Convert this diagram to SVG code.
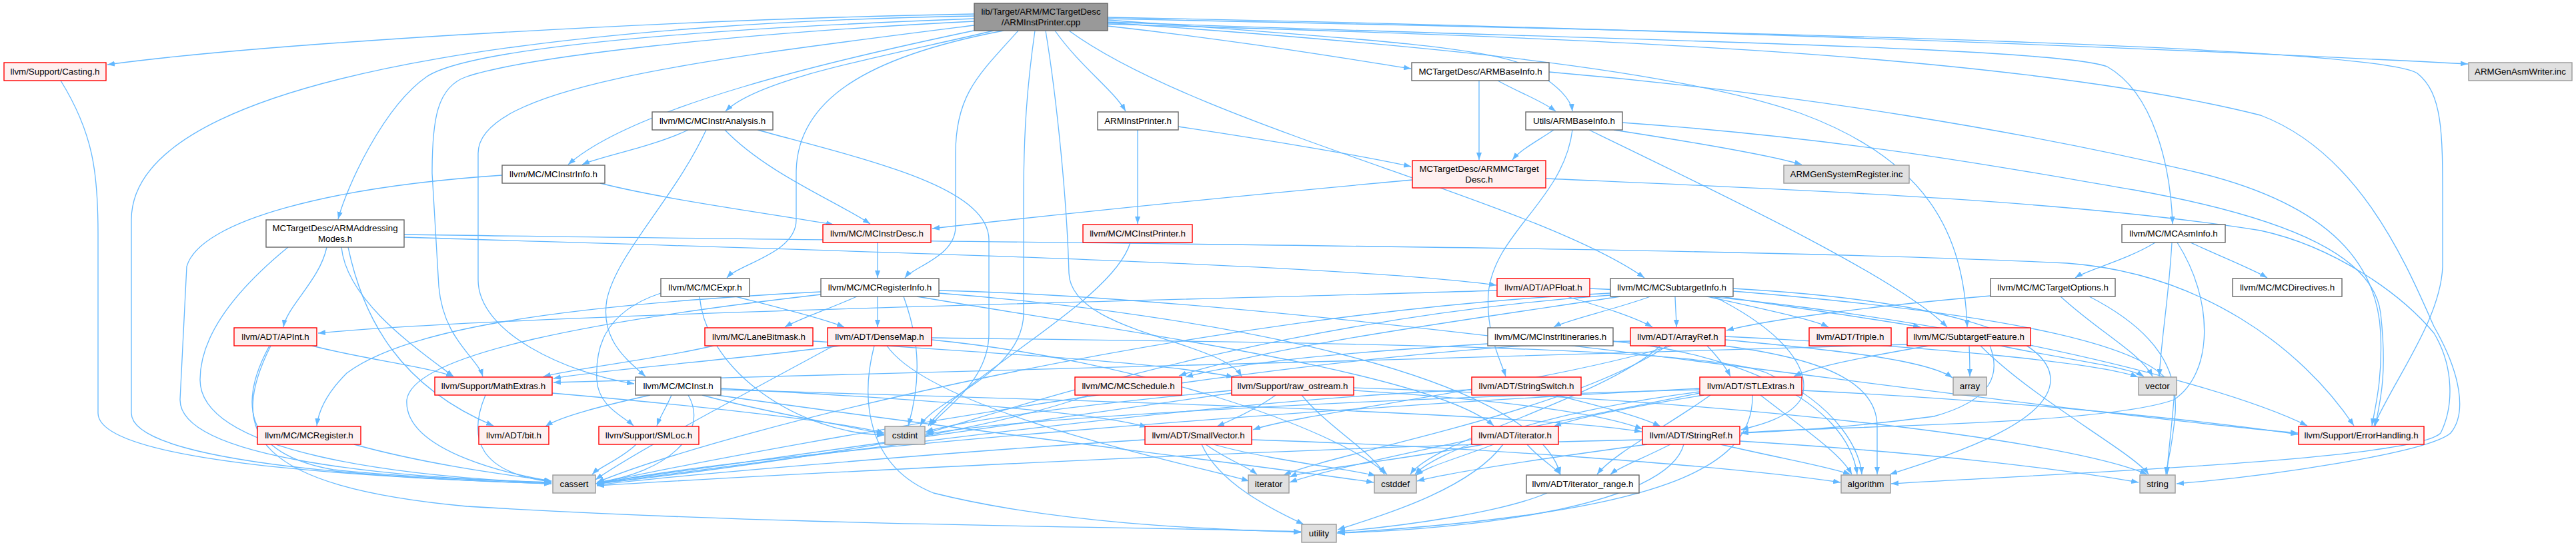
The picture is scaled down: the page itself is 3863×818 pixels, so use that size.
<svg xmlns="http://www.w3.org/2000/svg" width="3863" height="818" viewBox="0 0 3863 818">
<style>
.e{fill:none;stroke:#63b8ff;stroke-width:1.3;marker-end:url(#a)}
.n rect{stroke-width:1.4}
.w rect{fill:#ffffff;stroke:#666666}
.r rect{fill:#fff0f0;stroke:#ff0000}
.g rect{fill:#e0e0e0;stroke:#999999}
.m rect{fill:#999999;stroke:#666666}
text{font-family:"Liberation Sans",Arial,Helvetica,sans-serif;font-size:13.33px;fill:#000000;text-anchor:middle}
</style>
<defs>
<marker id="a" viewBox="0 0 11 8" refX="11" refY="4" markerWidth="11" markerHeight="8" markerUnits="userSpaceOnUse" orient="auto"><path d="M0,0 L11,4 L0,8 z" fill="#63b8ff"/></marker>
</defs>
<rect x="0" y="0" width="3863" height="818" fill="#ffffff"/>
<g id="edges">
<path class="e" d="M1461,21 C1050,28 420,62 161,97"/>
<path class="e" d="M1461,24 C1000,32 197,85 197,330 L197,620 C197,705 700,722 827,726"/>
<path class="e" d="M1461,28 C1000,45 700,75 640,115 C575,160 520,280 507,329"/>
<path class="e" d="M1461,32 C1100,50 790,85 700,115 C655,130 648,180 648,260 L658,430 C665,510 715,535 724,565"/>
<path class="e" d="M1461,38 C1050,90 717,130 717,230 L717,420 C717,500 850,560 951,576"/>
<path class="e" d="M1465,45 C1250,90 950,160 852,247"/>
<path class="e" d="M1490,46 C1350,80 1140,115 1088,167"/>
<path class="e" d="M1505,46 C1300,85 1194,150 1194,260 L1194,330 C1194,380 1110,395 1090,417"/>
<path class="e" d="M1527,46 C1470,110 1433,140 1433,230 L1433,340 C1433,385 1370,400 1357,417"/>
<path class="e" d="M1552,46 C1540,130 1535,200 1535,300 L1535,470 C1535,560 1400,600 1380,639"/>
<path class="e" d="M1568,46 C1585,150 1600,300 1603,410 C1606,500 1830,510 1862,565"/>
<path class="e" d="M1582,46 C1620,100 1670,135 1688,167"/>
<path class="e" d="M1603,46 C1800,190 2300,300 2466,417"/>
<path class="e" d="M1661,39 C1850,60 2000,85 2116,103"/>
<path class="e" d="M1661,30 C2000,55 2240,70 2290,100 C2340,130 2356,150 2358,167"/>
<path class="e" d="M1661,33 C2400,60 3080,70 3160,100 C3230,140 3255,250 3258,336"/>
<path class="e" d="M1661,34 C2100,65 2500,100 2700,170 C2890,240 2945,350 2950,491"/>
<path class="e" d="M1661,28 C2700,50 3560,70 3625,110 C3663,140 3663,200 3663,300 L3663,400 C3660,480 3590,570 3560,639"/>
<path class="e" d="M1661,26 C2400,40 3200,70 3701,96"/>
<path class="e" d="M1661,36 C2300,55 3000,75 3390,173 C3540,230 3610,400 3650,490 C3690,560 3700,620 3675,650 C3640,680 3400,715 3264,726"/>
<path class="e" d="M2218,121 C2218,180 2218,200 2218,240"/>
<path class="e" d="M2246,121 C2280,140 2310,150 2333,167"/>
<path class="e" d="M2323,108 C2700,140 3050,200 3300,260 C3500,310 3565,400 3570,500 C3573,570 3562,610 3557,639"/>
<path class="e" d="M2330,195 C2300,215 2280,225 2268,240"/>
<path class="e" d="M2358,195 C2345,300 2240,350 2232,440 C2228,500 2250,540 2258,565"/>
<path class="e" d="M2383,195 C2600,300 2850,420 2920,491"/>
<path class="e" d="M2420,195 C2550,215 2650,232 2702,247"/>
<path class="e" d="M2433,184 C2800,210 3050,260 3200,285 C3450,330 3560,390 3570,470 C3580,560 3570,600 3562,639"/>
<path class="e" d="M2118,270 C1900,290 1600,320 1398,343"/>
<path class="e" d="M2318,268 C2700,285 3100,300 3390,346 C3500,370 3600,440 3650,500 C3680,550 3680,610 3660,650 C3620,690 3100,710 2836,726"/>
<path class="e" d="M1767,190 C1900,210 2050,235 2116,250"/>
<path class="e" d="M1706,195 C1706,260 1706,290 1706,336"/>
<path class="e" d="M1032,195 C980,220 900,235 873,247"/>
<path class="e" d="M1059,195 C1010,300 925,380 910,450 C900,510 940,540 968,565"/>
<path class="e" d="M1087,195 C1150,260 1250,300 1305,336"/>
<path class="e" d="M1136,195 C1300,240 1483,280 1483,360 L1483,500 C1483,570 1420,610 1395,639"/>
<path class="e" d="M900,275 C1000,300 1150,320 1250,337"/>
<path class="e" d="M753,263 C500,280 300,330 280,400 L270,600 C270,690 600,718 827,724"/>
<path class="e" d="M490,371 C480,420 430,460 425,491"/>
<path class="e" d="M512,371 C520,450 620,520 680,565"/>
<path class="e" d="M522,371 C545,480 600,580 740,639"/>
<path class="e" d="M432,371 C360,430 300,500 300,570 C300,680 600,715 827,725"/>
<path class="e" d="M606,356 C1200,375 2000,395 2244,428"/>
<path class="e" d="M606,352 C1500,365 2600,370 3100,395 C3300,410 3450,520 3530,639"/>
<path class="e" d="M1316,364 C1316,390 1316,400 1316,417"/>
<path class="e" d="M1695,364 C1670,450 1450,560 1392,639"/>
<path class="e" d="M3232,364 C3190,390 3130,405 3112,417"/>
<path class="e" d="M3257,364 C3252,450 3242,500 3238,565"/>
<path class="e" d="M3265,364 C3320,450 3320,560 3260,600 C3150,640 2700,640 2611,650"/>
<path class="e" d="M3285,364 C3330,385 3380,405 3400,417"/>
<path class="e" d="M991,440 C900,470 893,530 895,570 C897,610 935,625 950,639"/>
<path class="e" d="M1103,445 C1180,465 1240,480 1266,491"/>
<path class="e" d="M1049,445 C1060,560 1200,650 1326,653"/>
<path class="e" d="M1316,445 C1316,465 1316,475 1316,491"/>
<path class="e" d="M1285,445 C1240,465 1195,480 1177,491"/>
<path class="e" d="M1231,438 C800,460 600,500 520,560 C490,590 478,615 475,639"/>
<path class="e" d="M1231,442 C900,480 620,530 610,600 C605,680 780,715 827,722"/>
<path class="e" d="M1355,445 C1375,500 1385,560 1362,639"/>
<path class="e" d="M1375,445 C1700,500 2150,560 2240,639"/>
<path class="e" d="M1408,440 C1800,470 2300,560 2340,712"/>
<path class="e" d="M1408,436 C2000,450 2900,600 3446,650"/>
<path class="e" d="M2245,436 C1800,450 800,470 477,500"/>
<path class="e" d="M2350,445 C2400,460 2450,475 2478,491"/>
<path class="e" d="M2384,433 C2800,450 3300,560 3460,639"/>
<path class="e" d="M2475,445 C2420,465 2350,480 2330,491"/>
<path class="e" d="M2512,445 C2513,470 2514,480 2514,491"/>
<path class="e" d="M2560,445 C2650,465 2720,480 2742,491"/>
<path class="e" d="M2580,445 C2750,470 2850,485 2880,491"/>
<path class="e" d="M2430,445 C2200,480 1900,520 1768,564"/>
<path class="e" d="M2570,445 C2680,500 2720,560 2700,600 C2680,630 2630,640 2611,645"/>
<path class="e" d="M2599,433 C2900,450 3075,500 3075,570 C3075,640 2900,690 2834,712"/>
<path class="e" d="M2599,437 C3000,470 3270,520 3260,600 C3255,660 3250,690 3250,712"/>
<path class="e" d="M2415,440 C1800,470 1100,640 895,724"/>
<path class="e" d="M2415,443 C1900,480 1500,620 1389,650"/>
<path class="e" d="M2985,444 C2800,460 2650,480 2589,496"/>
<path class="e" d="M3090,445 C3150,500 3210,530 3228,565"/>
<path class="e" d="M3133,445 C3240,500 3266,560 3262,620 C3258,670 3250,695 3248,712"/>
<path class="e" d="M468,519 C550,540 640,550 680,565"/>
<path class="e" d="M404,519 C360,600 360,680 500,705 C650,720 780,722 827,724"/>
<path class="e" d="M406,519 C340,650 380,730 700,760 C1200,790 1700,790 1951,798"/>
<path class="e" d="M1070,519 C980,540 880,550 815,565"/>
<path class="e" d="M1219,512 C1500,530 1750,545 1850,566"/>
<path class="e" d="M1260,519 C1100,540 900,555 830,568"/>
<path class="e" d="M1250,519 C1100,600 950,680 893,720"/>
<path class="e" d="M1330,519 C1400,620 1800,700 1873,722"/>
<path class="e" d="M1397,510 C1700,540 2000,640 2080,712"/>
<path class="e" d="M1311,519 C1290,600 1300,700 1400,740 C1600,790 1850,795 1951,799"/>
<path class="e" d="M1397,507 C2000,515 2560,520 2650,560 C2760,610 2790,680 2792,712"/>
<path class="e" d="M2231,516 C2000,530 1850,545 1778,566"/>
<path class="e" d="M2419,512 C2600,530 2770,600 2785,712"/>
<path class="e" d="M2507,519 C2300,580 1950,620 1879,645"/>
<path class="e" d="M2560,519 C2580,540 2590,555 2595,565"/>
<path class="e" d="M2587,510 C2750,525 2890,540 2928,567"/>
<path class="e" d="M2587,505 C2900,520 3150,545 3206,566"/>
<path class="e" d="M2585,519 C2750,540 2815,580 2815,640 L2815,712"/>
<path class="e" d="M2490,519 C2400,600 2150,660 2115,712"/>
<path class="e" d="M2500,519 C2350,620 2000,680 1925,713"/>
<path class="e" d="M2445,512 C2000,520 1200,660 893,726"/>
<path class="e" d="M2953,519 C2954,540 2954,550 2954,565"/>
<path class="e" d="M3000,519 C3100,540 3190,550 3215,565"/>
<path class="e" d="M2970,519 C3050,600 3200,680 3222,712"/>
<path class="e" d="M2892,519 C2800,535 2720,550 2690,565"/>
<path class="e" d="M2984,519 C3000,560 2990,600 2900,625 C2750,645 2650,648 2611,650"/>
<path class="e" d="M2860,517 C2200,540 1200,560 830,574"/>
<path class="e" d="M728,593 C700,660 720,710 827,723"/>
<path class="e" d="M828,590 C1000,605 1250,630 1326,650"/>
<path class="e" d="M975,593 C900,610 840,625 818,640"/>
<path class="e" d="M1007,593 C1000,610 990,625 985,639"/>
<path class="e" d="M1032,593 C1065,650 1000,710 895,724"/>
<path class="e" d="M1081,583 C1400,600 1650,620 1720,641"/>
<path class="e" d="M1081,585 C1600,600 2300,620 2462,648"/>
<path class="e" d="M1053,593 C1150,620 1280,640 1326,652"/>
<path class="e" d="M1075,593 C1400,640 1900,700 2060,724"/>
<path class="e" d="M1632,593 C1450,660 1000,715 895,726"/>
<path class="e" d="M1913,593 C1890,610 1860,625 1825,640"/>
<path class="e" d="M2030,586 C2250,600 2400,620 2463,644"/>
<path class="e" d="M1952,593 C1990,640 2060,680 2076,712"/>
<path class="e" d="M1847,586 C1600,610 1450,630 1388,648"/>
<path class="e" d="M1847,590 C1500,640 1000,710 895,725"/>
<path class="e" d="M2030,582 C2600,600 3100,660 3220,712"/>
<path class="e" d="M2333,593 C2400,610 2460,625 2490,640"/>
<path class="e" d="M2207,585 C1800,600 1100,700 895,726"/>
<path class="e" d="M2555,593 C2450,610 2370,625 2330,640"/>
<path class="e" d="M2565,593 C2500,640 2420,680 2395,712"/>
<path class="e" d="M2702,586 C3000,600 3300,630 3446,652"/>
<path class="e" d="M2640,593 C2700,640 2760,680 2777,712"/>
<path class="e" d="M2549,588 C2300,620 2150,680 2122,712"/>
<path class="e" d="M2549,585 C2000,600 1500,630 1388,652"/>
<path class="e" d="M2549,583 C2000,610 1100,680 895,727"/>
<path class="e" d="M2628,593 C2630,700 2500,770 2005,800"/>
<path class="e" d="M2549,590 C2300,640 2000,700 1934,724"/>
<path class="e" d="M954,667 C930,690 900,700 888,712"/>
<path class="e" d="M531,667 C650,700 780,715 827,722"/>
<path class="e" d="M91,121 C140,200 147,260 147,350 L147,620 C147,690 500,715 827,726"/>
<path class="e" d="M1808,667 C1840,690 1870,700 1885,712"/>
<path class="e" d="M1820,667 C1900,690 2030,705 2063,714"/>
<path class="e" d="M1802,667 C1830,730 1920,770 1955,787"/>
<path class="e" d="M1877,660 C2200,670 2600,700 2760,724"/>
<path class="e" d="M1717,660 C1400,680 1000,715 895,728"/>
<path class="e" d="M2290,667 C2310,690 2330,700 2340,712"/>
<path class="e" d="M2240,667 C2180,690 2140,700 2123,714"/>
<path class="e" d="M2225,667 C2100,690 1960,705 1934,716"/>
<path class="e" d="M2254,667 C2200,740 2050,780 2006,795"/>
<path class="e" d="M2505,667 C2460,690 2430,700 2415,712"/>
<path class="e" d="M2525,667 C2500,760 2200,795 2006,800"/>
<path class="e" d="M2580,667 C2680,690 2740,700 2775,712"/>
<path class="e" d="M2609,662 C2900,680 3100,705 3207,724"/>
<path class="e" d="M2463,660 C2000,670 1200,710 895,729"/>
<path class="e" d="M2470,667 C2300,690 2170,710 2125,722"/>
<path class="e" d="M2320,740 C2250,770 2100,790 2006,798"/>
</g>
<g id="n-top" class="n m"><rect x="1461" y="5" width="200" height="41"/><text x="1561" y="22">lib/Target/ARM/MCTargetDesc</text><text x="1561" y="38">/ARMInstPrinter.cpp</text></g>
<g id="n-casting" class="n r"><rect x="6" y="94" width="153" height="27"/><text x="82.5" y="112">llvm/Support/Casting.h</text></g>
<g id="n-mcbase" class="n w"><rect x="2117" y="94" width="206" height="27"/><text x="2220" y="112">MCTargetDesc/ARMBaseInfo.h</text></g>
<g id="n-asmwriter" class="n g"><rect x="3702" y="94" width="155" height="27"/><text x="3779.5" y="112">ARMGenAsmWriter.inc</text></g>
<g id="n-instranalysis" class="n w"><rect x="978" y="168" width="181" height="27"/><text x="1068.5" y="186">llvm/MC/MCInstrAnalysis.h</text></g>
<g id="n-instprinterh" class="n w"><rect x="1646" y="168" width="121" height="27"/><text x="1706.5" y="186">ARMInstPrinter.h</text></g>
<g id="n-utilsbase" class="n w"><rect x="2288" y="168" width="145" height="27"/><text x="2360.5" y="186">Utils/ARMBaseInfo.h</text></g>
<g id="n-instrinfo" class="n w"><rect x="753" y="248" width="154" height="27"/><text x="830" y="266">llvm/MC/MCInstrInfo.h</text></g>
<g id="n-mctarget" class="n r"><rect x="2118" y="241" width="200" height="41"/><text x="2218" y="258">MCTargetDesc/ARMMCTarget</text><text x="2218" y="274">Desc.h</text></g>
<g id="n-sysreg" class="n g"><rect x="2675" y="248" width="188" height="27"/><text x="2769" y="266">ARMGenSystemRegister.inc</text></g>
<g id="n-addrmodes" class="n w"><rect x="399" y="330" width="207" height="41"/><text x="502.5" y="347">MCTargetDesc/ARMAddressing</text><text x="502.5" y="363">Modes.h</text></g>
<g id="n-instrdesc" class="n r"><rect x="1234" y="337" width="162" height="27"/><text x="1315" y="355">llvm/MC/MCInstrDesc.h</text></g>
<g id="n-mcinstprinter" class="n r"><rect x="1624" y="337" width="164" height="27"/><text x="1706" y="355">llvm/MC/MCInstPrinter.h</text></g>
<g id="n-asminfo" class="n w"><rect x="3182" y="337" width="155" height="27"/><text x="3259.5" y="355">llvm/MC/MCAsmInfo.h</text></g>
<g id="n-mcexpr" class="n w"><rect x="991" y="418" width="133" height="27"/><text x="1057.5" y="436">llvm/MC/MCExpr.h</text></g>
<g id="n-reginfo" class="n w"><rect x="1231" y="418" width="177" height="27"/><text x="1319.5" y="436">llvm/MC/MCRegisterInfo.h</text></g>
<g id="n-apfloat" class="n r"><rect x="2245" y="418" width="139" height="27"/><text x="2314.5" y="436">llvm/ADT/APFloat.h</text></g>
<g id="n-subtarget" class="n w"><rect x="2415" y="418" width="184" height="27"/><text x="2507" y="436">llvm/MC/MCSubtargetInfo.h</text></g>
<g id="n-targetopts" class="n w"><rect x="2985" y="418" width="187" height="27"/><text x="3078.5" y="436">llvm/MC/MCTargetOptions.h</text></g>
<g id="n-directives" class="n w"><rect x="3348" y="418" width="164" height="27"/><text x="3430" y="436">llvm/MC/MCDirectives.h</text></g>
<g id="n-apint" class="n r"><rect x="351" y="492" width="124" height="27"/><text x="413" y="510">llvm/ADT/APInt.h</text></g>
<g id="n-lanebitmask" class="n r"><rect x="1057" y="492" width="162" height="27"/><text x="1138" y="510">llvm/MC/LaneBitmask.h</text></g>
<g id="n-densemap" class="n r"><rect x="1241" y="492" width="156" height="27"/><text x="1319" y="510">llvm/ADT/DenseMap.h</text></g>
<g id="n-itineraries" class="n w"><rect x="2231" y="492" width="188" height="27"/><text x="2325" y="510">llvm/MC/MCInstrItineraries.h</text></g>
<g id="n-arrayref" class="n r"><rect x="2445" y="492" width="142" height="27"/><text x="2516" y="510">llvm/ADT/ArrayRef.h</text></g>
<g id="n-triple" class="n r"><rect x="2713" y="492" width="123" height="27"/><text x="2774.5" y="510">llvm/ADT/Triple.h</text></g>
<g id="n-subfeature" class="n r"><rect x="2860" y="492" width="185" height="27"/><text x="2952.5" y="510">llvm/MC/SubtargetFeature.h</text></g>
<g id="n-mathextras" class="n r"><rect x="652" y="566" width="176" height="27"/><text x="740" y="584">llvm/Support/MathExtras.h</text></g>
<g id="n-mcinst" class="n w"><rect x="953" y="566" width="128" height="27"/><text x="1017" y="584">llvm/MC/MCInst.h</text></g>
<g id="n-schedule" class="n r"><rect x="1612" y="566" width="160" height="27"/><text x="1692" y="584">llvm/MC/MCSchedule.h</text></g>
<g id="n-rawostream" class="n r"><rect x="1847" y="566" width="183" height="27"/><text x="1938.5" y="584">llvm/Support/raw_ostream.h</text></g>
<g id="n-stringswitch" class="n r"><rect x="2207" y="566" width="164" height="27"/><text x="2289" y="584">llvm/ADT/StringSwitch.h</text></g>
<g id="n-stlextras" class="n r"><rect x="2549" y="566" width="153" height="27"/><text x="2625.5" y="584">llvm/ADT/STLExtras.h</text></g>
<g id="n-array" class="n g"><rect x="2929" y="566" width="50" height="27"/><text x="2954" y="584">array</text></g>
<g id="n-vector" class="n g"><rect x="3207" y="566" width="57" height="27"/><text x="3235.5" y="584">vector</text></g>
<g id="n-mcregister" class="n r"><rect x="386" y="640" width="155" height="27"/><text x="463.5" y="658">llvm/MC/MCRegister.h</text></g>
<g id="n-bit" class="n r"><rect x="718" y="640" width="105" height="27"/><text x="770.5" y="658">llvm/ADT/bit.h</text></g>
<g id="n-smloc" class="n r"><rect x="898" y="640" width="150" height="27"/><text x="973" y="658">llvm/Support/SMLoc.h</text></g>
<g id="n-cstdint" class="n g"><rect x="1327" y="640" width="60" height="27"/><text x="1357" y="658">cstdint</text></g>
<g id="n-smallvector" class="n r"><rect x="1717" y="640" width="160" height="27"/><text x="1797" y="658">llvm/ADT/SmallVector.h</text></g>
<g id="n-iteratorh" class="n r"><rect x="2207" y="640" width="130" height="27"/><text x="2272" y="658">llvm/ADT/iterator.h</text></g>
<g id="n-stringref" class="n r"><rect x="2463" y="640" width="146" height="27"/><text x="2536" y="658">llvm/ADT/StringRef.h</text></g>
<g id="n-errorhandling" class="n r"><rect x="3447" y="640" width="188" height="27"/><text x="3541" y="658">llvm/Support/ErrorHandling.h</text></g>
<g id="n-cassert" class="n g"><rect x="829" y="713" width="64" height="27"/><text x="861" y="731">cassert</text></g>
<g id="n-iterator" class="n g"><rect x="1872" y="713" width="61" height="27"/><text x="1902.5" y="731">iterator</text></g>
<g id="n-cstddef" class="n g"><rect x="2061" y="713" width="63" height="27"/><text x="2092.5" y="731">cstddef</text></g>
<g id="n-iterrange" class="n w"><rect x="2289" y="713" width="169" height="27"/><text x="2373.5" y="731">llvm/ADT/iterator_range.h</text></g>
<g id="n-algorithm" class="n g"><rect x="2761" y="713" width="74" height="27"/><text x="2798" y="731">algorithm</text></g>
<g id="n-string" class="n g"><rect x="3209" y="713" width="53" height="27"/><text x="3235.5" y="731">string</text></g>
<g id="n-utility" class="n g"><rect x="1952" y="787" width="52" height="27"/><text x="1978" y="805">utility</text></g>
</svg>
